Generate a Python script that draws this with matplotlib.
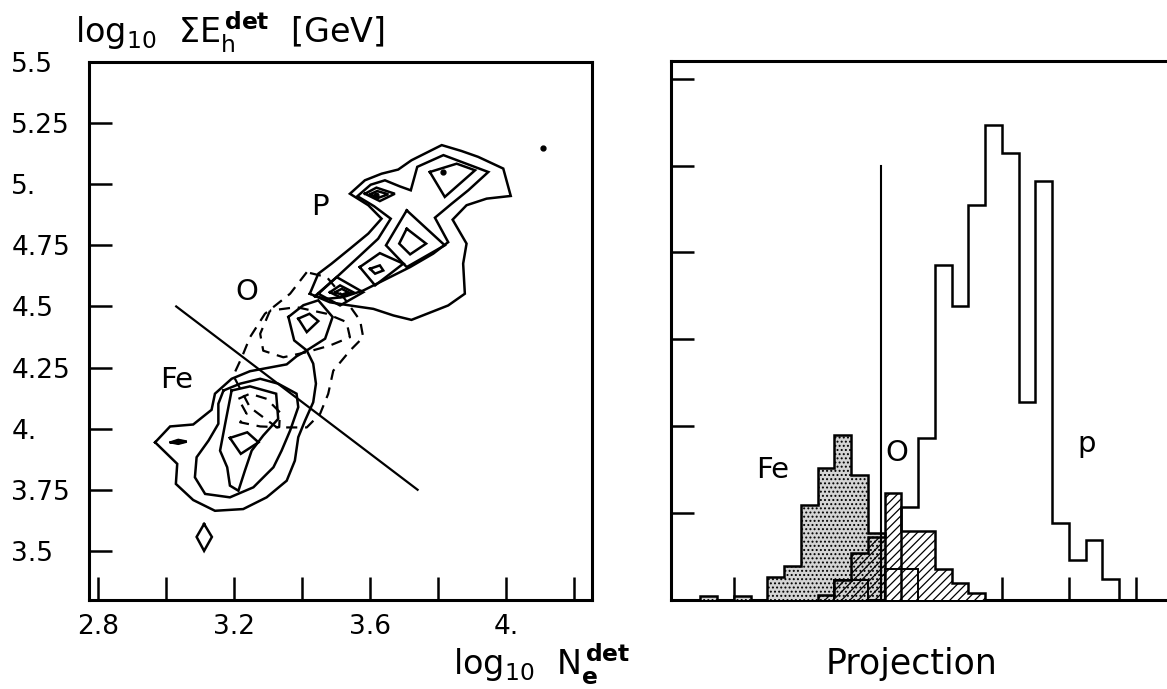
import numpy as np
import matplotlib.pyplot as plt

plt.rcParams['font.family'] = 'DejaVu Sans'
plt.rcParams['mathtext.fontset'] = 'dejavusans'
plt.rcParams['hatch.linewidth'] = 0.9

W, H = 1167, 689

# ---- left panel: contour lines, (log10 Ne, log10 sumEh) ----
# proton contours (solid)
p_outer = [(3.423, 4.552), (3.448, 4.634), (3.487, 4.675), (3.541, 4.736), (3.595, 4.798),
           (3.634, 4.859), (3.595, 4.914), (3.541, 4.961), (3.585, 5.016), (3.634, 5.043),
           (3.683, 5.060), (3.722, 5.098), (3.811, 5.160), (3.869, 5.136), (3.918, 5.112),
           (3.992, 5.064), (4.014, 4.952), (3.943, 4.941), (3.884, 4.914), (3.843, 4.855),
           (3.884, 4.757), (3.874, 4.675), (3.879, 4.552), (3.830, 4.504), (3.722, 4.445),
           (3.669, 4.463), (3.610, 4.490), (3.541, 4.504), (3.482, 4.517)]
p_mid = [(3.438, 4.542), (3.502, 4.620), (3.566, 4.702), (3.624, 4.777), (3.661, 4.859),
         (3.612, 4.910), (3.563, 4.951), (3.602, 4.998), (3.644, 5.016), (3.688, 4.991),
         (3.720, 4.975), (3.739, 5.071), (3.816, 5.119), (3.948, 5.050), (3.889, 4.975),
         (3.840, 4.920), (3.791, 4.863), (3.830, 4.763), (3.786, 4.716), (3.718, 4.661),
         (3.639, 4.606), (3.580, 4.565), (3.521, 4.538), (3.472, 4.531)]
p_peak1 = [(3.585, 4.961), (3.619, 4.986), (3.673, 4.961), (3.629, 4.931)]
p_peak1b = [(3.600, 4.959), (3.621, 4.972), (3.654, 4.959), (3.624, 4.944)]
p_peak2 = [(3.776, 5.050), (3.855, 5.084), (3.909, 5.057), (3.820, 4.948)]
p_peak3 = [(3.708, 4.893), (3.820, 4.750), (3.708, 4.661), (3.647, 4.750)]
p_peak3b = [(3.708, 4.818), (3.765, 4.757), (3.718, 4.713), (3.686, 4.757)]
p_peak4 = [(3.570, 4.661), (3.629, 4.718), (3.698, 4.675), (3.615, 4.586)]
p_peak4b = [(3.600, 4.654), (3.629, 4.668), (3.639, 4.647), (3.615, 4.634)]
neck_a = [(3.448, 4.552), (3.502, 4.620), (3.580, 4.558), (3.512, 4.504)]
neck_b = [(3.482, 4.558), (3.512, 4.586), (3.551, 4.558), (3.512, 4.538)]
neck_c = [(3.497, 4.558), (3.517, 4.572), (3.536, 4.558), (3.517, 4.548)]

# oxygen peak box (solid)
o_box = [(3.360, 4.457), (3.404, 4.505), (3.448, 4.525), (3.490, 4.457), (3.468, 4.368),
         (3.414, 4.320), (3.377, 4.361)]
o_box_in = [(3.389, 4.450), (3.422, 4.470), (3.448, 4.440), (3.414, 4.395)]

# iron contours (solid)
fe_outer = [(2.968, 3.944), (3.012, 4.009), (3.080, 4.017), (3.134, 4.077), (3.144, 4.143),
            (3.193, 4.204), (3.247, 4.235), (3.301, 4.249), (3.355, 4.263), (3.384, 4.296),
            (3.414, 4.320), (3.433, 4.266), (3.441, 4.184), (3.433, 4.108), (3.409, 4.033),
            (3.389, 3.965), (3.379, 3.869), (3.355, 3.787), (3.296, 3.719), (3.227, 3.671),
            (3.144, 3.664), (3.080, 3.708), (3.029, 3.774), (3.033, 3.856)]
fe_mid = [(3.169, 4.156), (3.218, 4.184), (3.277, 4.204), (3.330, 4.184), (3.384, 4.143),
          (3.389, 4.088), (3.365, 3.992), (3.340, 3.910), (3.316, 3.842), (3.257, 3.760),
          (3.188, 3.719), (3.115, 3.733), (3.085, 3.801), (3.090, 3.883), (3.125, 3.951),
          (3.154, 4.020), (3.154, 4.102)]
fe_in = [(3.193, 4.156), (3.247, 4.173), (3.324, 4.143), (3.330, 4.040), (3.286, 3.972),
         (3.252, 3.910), (3.232, 3.828), (3.213, 3.746), (3.188, 3.767), (3.180, 3.842),
         (3.159, 3.910), (3.174, 4.020)]
fe_peak = [(3.188, 3.962), (3.239, 3.985), (3.272, 3.944), (3.220, 3.897)]
fe_eye = [(3.014, 3.944), (3.036, 3.954), (3.061, 3.947), (3.036, 3.938)]
diamond = [(3.112, 3.610), (3.135, 3.557), (3.112, 3.500), (3.090, 3.557)]

# oxygen contours (dashed)
o_dash_outer = [(3.414, 4.640), (3.365, 4.552), (3.291, 4.470), (3.247, 4.374), (3.223, 4.292),
                (3.198, 4.217), (3.247, 4.087), (3.326, 4.005), (3.414, 4.005), (3.453, 4.060),
                (3.477, 4.142), (3.492, 4.237), (3.541, 4.319), (3.580, 4.374), (3.571, 4.442),
                (3.522, 4.538), (3.473, 4.620)]
o_dash_inner = [(3.306, 4.483), (3.277, 4.388), (3.286, 4.319), (3.345, 4.292), (3.414, 4.313),
                (3.482, 4.340), (3.541, 4.374), (3.531, 4.436), (3.473, 4.470), (3.384, 4.497)]
o_dash_fe = [(3.213, 4.122), (3.247, 4.143), (3.296, 4.122), (3.335, 4.067), (3.333, 4.006),
             (3.277, 4.009), (3.218, 4.026), (3.237, 4.061)]

cut_line_x = [3.03, 3.74]
cut_line_y = [4.50, 3.75]

solid_contours = [p_outer, p_mid, p_peak1, p_peak1b, p_peak2, p_peak3, p_peak3b, p_peak4,
                  p_peak4b, neck_a, neck_b, neck_c, o_box, o_box_in, fe_outer, fe_mid, fe_in,
                  fe_peak, fe_eye, diamond]
dashed_contours = [o_dash_outer, o_dash_inner, o_dash_fe]
peak_dots = [(3.619, 4.955), (3.816, 5.050), (4.110, 5.150)]

left_labels = [('P', 3.453, 4.907), ('O', 3.237, 4.559), ('Fe', 3.031, 4.197)]
left_xticks = [2.8, 3.0, 3.2, 3.4, 3.6, 3.8, 4.0, 4.2]
left_xticklabels = ['2.8', '', '3.2', '', '3.6', '', '4.', '']
left_yticks = [3.5, 3.75, 4.0, 4.25, 4.5, 4.75, 5.0, 5.25, 5.5]
left_yticklabels = ['3.5', '3.75', '4.', '4.25', '4.5', '4.75', '5.', '5.25', '5.5']

# ---- right panel: projection histograms (bin width 0.25) ----
p_edges = np.arange(3.5, 6.76, 0.25)
p_counts = [1.07, 1.86, 3.85, 3.38, 4.55, 5.47, 5.14, 2.28, 4.82, 0.89, 0.46, 0.69, 0.24]
fe_edges = np.arange(0.5, 3.26, 0.25)
fe_counts = [0.05, 0.0, 0.05, 0.0, 0.27, 0.39, 1.09, 1.52, 1.90, 1.44, 0.77]
o_edges = np.arange(2.25, 4.76, 0.25)
o_counts = [0.06, 0.23, 0.54, 0.73, 1.23, 0.79, 0.79, 0.36, 0.19, 0.08]
o2_edges = np.arange(2.5, 3.76, 0.25)
o2_counts = [0.23, 0.23, 0.0, 0.36, 0.36]
cut_pos = 3.19
cut_height = 5.0
right_labels = [('Fe', 1.58, 1.50), ('O', 3.44, 1.69), ('p', 6.27, 1.80)]

fig = plt.figure(figsize=(W / 100, H / 100), dpi=100)


def px_axes(l, t, r, b):
    return fig.add_axes([l / W, 1 - b / H, (r - l) / W, (b - t) / H])


ax1 = px_axes(89, 62, 592, 600)
ax2 = px_axes(671, 61, 1190, 600)

# left panel
for c in solid_contours:
    xs = [v[0] for v in c] + [c[0][0]]
    ys = [v[1] for v in c] + [c[0][1]]
    ax1.plot(xs, ys, color='black', lw=1.8, solid_joinstyle='miter')
for c in dashed_contours:
    xs = [v[0] for v in c] + [c[0][0]]
    ys = [v[1] for v in c] + [c[0][1]]
    ax1.plot(xs, ys, color='black', lw=1.6, ls=(0, (5, 3.5)))
ax1.fill([v[0] for v in fe_eye], [v[1] for v in fe_eye], color='black')
ax1.plot([d[0] for d in peak_dots], [d[1] for d in peak_dots], 'o', color='black', ms=3.5)
ax1.plot(cut_line_x, cut_line_y, color='black', lw=1.6)
for txt, x, y in left_labels:
    ax1.text(x, y, txt, fontsize=21, ha='center', va='center')

ax1.set_xlim(2.7735, 4.253)
ax1.set_ylim(3.299, 5.5)
ax1.set_xticks(left_xticks)
ax1.set_xticklabels(left_xticklabels)
ax1.set_yticks(left_yticks)
ax1.set_yticklabels(left_yticklabels)
ax1.tick_params(axis='both', direction='in', length=16.5, width=1.8, labelsize=19)
ax1.tick_params(axis='x', pad=10)
ax1.tick_params(axis='y', pad=56)
for lbl in ax1.get_yticklabels():
    lbl.set_horizontalalignment('left')
for s in ax1.spines.values():
    s.set_linewidth(2.2)

# right panel
ax2.stairs(o_counts, o_edges, fill=True, facecolor='white', edgecolor='none', lw=0, zorder=2.6)
ax2.stairs(p_counts, p_edges, color='black', lw=1.8, zorder=2.7)
ax2.stairs(fe_counts, fe_edges, fill=True, facecolor='#d4d4d4', edgecolor='black', lw=0,
           hatch='....', zorder=3)
ax2.stairs(fe_counts, fe_edges, color='black', lw=1.8, zorder=3.1)
ax2.stairs(o_counts, o_edges, fill=True, facecolor='none', edgecolor='black', lw=0,
           hatch='////', zorder=4)
ax2.stairs(o2_counts, o2_edges, color='black', lw=1.4, zorder=4.1)
ax2.stairs(o_counts, o_edges, color='black', lw=1.8, zorder=4.2)
ax2.plot([cut_pos, cut_pos], [0, cut_height], color='black', lw=1.5, zorder=5)
for txt, x, y in right_labels:
    ax2.text(x, y, txt, fontsize=21, ha='center', va='center')

ax2.set_xlim(0.063, 0.063 + 519 / 67)
ax2.set_ylim(0, 539 / 86.9)
ax2.set_xticks(range(1, 8))
ax2.set_yticks(range(1, 7))
ax2.set_xticklabels([])
ax2.set_yticklabels([])
ax2.tick_params(axis='both', direction='in', length=16.5, width=1.8)
for s in ax2.spines.values():
    s.set_linewidth(2.2)

# axis titles
fig.text(75 / W, 1 - 43 / H, r'log$_{10}$  $\Sigma$E$_{\mathrm{h}}^{\,\mathbf{det}}$  [GeV]',
         fontsize=24, ha='left', va='baseline')
fig.text(453 / W, 1 - 674 / H, r'log$_{10}$  N$_{\mathbf{e}}^{\,\mathbf{det}}$', fontsize=24,
         ha='left', va='baseline')
fig.text(912 / W, 1 - 674 / H, 'Projection', fontsize=25, ha='center', va='baseline')

fig.savefig('out.png', dpi=100)
